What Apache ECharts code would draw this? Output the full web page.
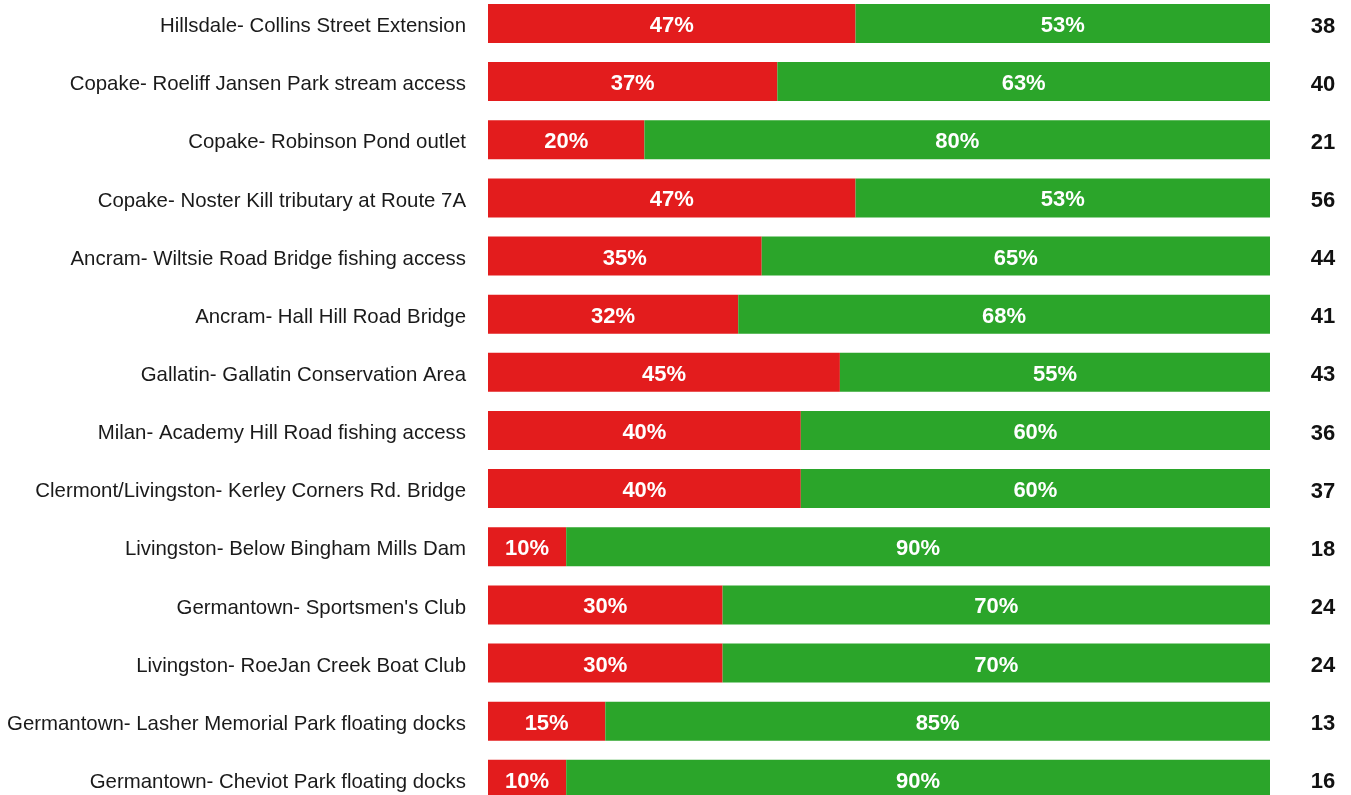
<!DOCTYPE html>
<html>
<head>
<meta charset="utf-8">
<script src="https://cdn.jsdelivr.net/npm/echarts@6/dist/echarts.min.js"></script>
<style>
  html, body { margin: 0; padding: 0; background: #ffffff; }
  #chart { width: 1351px; height: 795px; }
</style>
</head>
<body>
<div id="chart"></div>
<script>
// Sites sampled, top to bottom
const sites = [
  'Hillsdale- Collins Street Extension',
  'Copake- Roeliff Jansen Park stream access',
  'Copake- Robinson Pond outlet',
  'Copake- Noster Kill tributary at Route 7A',
  'Ancram- Wiltsie Road Bridge fishing access',
  'Ancram- Hall Hill Road Bridge',
  'Gallatin- Gallatin Conservation Area',
  'Milan- Academy Hill Road fishing access',
  'Clermont/Livingston- Kerley Corners Rd. Bridge',
  'Livingston- Below Bingham Mills Dam',
  "Germantown- Sportsmen's Club",
  'Livingston- RoeJan Creek Boat Club',
  'Germantown- Lasher Memorial Park floating docks',
  'Germantown- Cheviot Park floating docks'
];
// Share of each site's samples (percent)
const redShare = [47, 37, 20, 47, 35, 32, 45, 40, 40, 10, 30, 30, 15, 10];
const greenShare = [53, 63, 80, 53, 65, 68, 55, 60, 60, 90, 70, 70, 85, 90];
// Number of samples per site
const sampleCounts = [38, 40, 21, 56, 44, 41, 43, 36, 37, 18, 24, 24, 13, 16];

const RED = '#e31c1d';
const GREEN = '#2ba52a';

const chart = echarts.init(document.getElementById('chart'), null, { renderer: 'canvas' });

const segLabel = {
  show: true,
  position: 'inside',
  offset: [0, 2.5],
  formatter: '{c}%',
  color: '#ffffff',
  fontFamily: 'Liberation Sans, Arial, sans-serif',
  fontWeight: 'bold',
  fontSize: 22
};

chart.setOption({
  animation: false,
  backgroundColor: '#ffffff',
  grid: {
    left: 488, right: 81, top: -5.6, bottom: -13.4,
    containLabel: false,
    outerBoundsMode: 'none'
  },
  xAxis: {
    type: 'value', min: 0, max: 100, show: false
  },
  yAxis: [
    {
      type: 'category',
      data: sites,
      inverse: true,
      axisLine: { show: false },
      axisTick: { show: false },
      axisLabel: {
        margin: 22,
        formatter: '{s|{value}}',
        rich: {
          s: {
            padding: [6, 0, 0, 0],
            color: '#1a1a1a',
            fontFamily: 'Liberation Sans, Arial, sans-serif',
            fontSize: 20.4
          }
        }
      }
    },
    {
      type: 'category',
      data: sampleCounts.map(String),
      inverse: true,
      position: 'right',
      axisLine: { show: false },
      axisTick: { show: false },
      axisLabel: {
        margin: 53,
        align: 'center',
        formatter: '{n|{value}}',
        rich: {
          n: {
            padding: [6, 0, 0, 0],
            color: '#111111',
            fontFamily: 'Liberation Sans, Arial, sans-serif',
            fontWeight: 'bold',
            fontSize: 22
          }
        }
      }
    }
  ],
  series: [
    {
      type: 'bar', stack: 'share', barWidth: 39,
      data: redShare,
      itemStyle: { color: RED },
      label: segLabel
    },
    {
      type: 'bar', stack: 'share', barWidth: 39,
      data: greenShare,
      itemStyle: { color: GREEN },
      label: segLabel
    }
  ]
});
</script>
</body>
</html>
